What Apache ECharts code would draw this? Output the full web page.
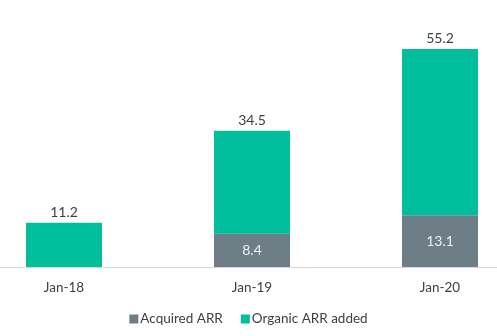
<!DOCTYPE html>
<html>
<head>
<meta charset="utf-8">
<script src="https://cdn.jsdelivr.net/npm/echarts@6/dist/echarts.min.js"></script>
<style>
  html, body { margin: 0; padding: 0; background: #ffffff; }
  #chart { width: 497px; height: 336px; }
</style>
</head>
<body>
<div id="chart"></div>
<script>
// ARR build-up by year (in millions)
const categories = ['Jan-18', 'Jan-19', 'Jan-20'];
const acquiredArr = [0, 8.4, 13.1];
const organicArr = [11.2, 26.1, 42.1];
const totalArr = [11.2, 34.5, 55.2];

const FONT = 'Lato, "Open Sans", sans-serif';
const TEXT = '#404040';
const TEAL = '#00BE9B';
const SLATE = '#6E7E86';

const chart = echarts.init(document.getElementById('chart'), null, { renderer: 'canvas' });

chart.setOption({
  animation: false,
  textStyle: { fontFamily: FONT },
  grid: { left: -30, width: 564, top: 30, bottom: 69, containLabel: false, outerBoundsMode: 'none' },
  legend: {
    bottom: 5,
    left: 'center',
    itemWidth: 9,
    itemHeight: 9,
    itemGap: 18,
    icon: 'rect',
    textStyle: { fontFamily: FONT, fontSize: 13.5, color: TEXT, padding: [0, 0, 0, -3] },
    data: ['Acquired ARR', 'Organic ARR added']
  },
  xAxis: {
    type: 'category',
    data: categories,
    axisLine: { show: true, lineStyle: { color: '#d9d9d9', width: 1 } },
    axisTick: { show: false },
    axisLabel: { color: TEXT, fontSize: 13.5, margin: 14, fontFamily: FONT }
  },
  yAxis: {
    type: 'value',
    min: 0,
    max: 60,
    show: false,
    splitLine: { show: false }
  },
  series: [
    {
      name: 'Acquired ARR',
      type: 'bar',
      stack: 'arr',
      barWidth: 76,
      data: acquiredArr,
      itemStyle: { color: SLATE },
      label: {
        show: true,
        position: 'inside',
        color: '#eef1f2',
        fontSize: 14,
        fontFamily: FONT,
        formatter: p => (p.value > 0 ? p.value.toFixed(1) : '')
      }
    },
    {
      name: 'Organic ARR added',
      type: 'bar',
      stack: 'arr',
      barWidth: 76,
      data: organicArr,
      itemStyle: { color: TEAL },
      label: {
        show: true,
        position: 'top',
        distance: 3,
        color: TEXT,
        fontSize: 14,
        fontFamily: FONT,
        formatter: p => totalArr[p.dataIndex].toFixed(1)
      }
    }
  ]
});
</script>
</body>
</html>
